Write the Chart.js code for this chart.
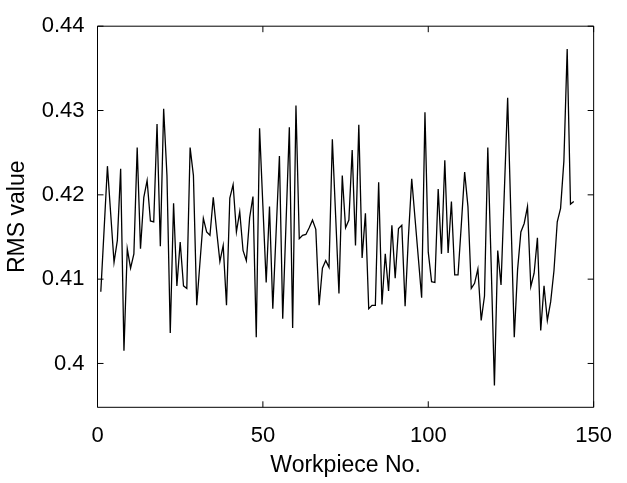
<!DOCTYPE html>
<html>
<head>
<meta charset="utf-8">
<title>RMS value by workpiece</title>
<script src="https://cdn.jsdelivr.net/npm/chart.js@4.4.1/dist/chart.umd.min.js"></script>
<style>
  html, body { margin: 0; padding: 0; background: #ffffff; }
  canvas { display: block; }
</style>
</head>
<body>
<canvas id="chart" width="627" height="483"></canvas>
<script>
// Workpiece numbers along the horizontal axis
const workpiece = [
  1, 2, 3, 4, 5, 6, 7, 8, 9, 10, 11, 12, 13, 14, 15, 16, 17, 18, 19, 20,
  21, 22, 23, 24, 25, 26, 27, 28, 29, 30, 31, 32, 33, 34, 35, 36, 37, 38, 39, 40,
  41, 42, 43, 44, 45, 46, 47, 48, 49, 50, 51, 52, 53, 54, 55, 56, 57, 58, 59, 60,
  61, 62, 63, 64, 65, 66, 67, 68, 69, 70, 71, 72, 73, 74, 75, 76, 77, 78, 79, 80,
  81, 82, 83, 84, 85, 86, 87, 88, 89, 90, 91, 92, 93, 94, 95, 96, 97, 98, 99, 100,
  101, 102, 103, 104, 105, 106, 107, 108, 109, 110, 111, 112, 113, 114, 115, 116, 117, 118, 119, 120,
  121, 122, 123, 124, 125, 126, 127, 128, 129, 130, 131, 132, 133, 134, 135, 136, 137, 138, 139, 140,
  141, 142, 143, 144
];

// RMS value measured for each workpiece
const rms = [
  0.4085, 0.4159, 0.4234, 0.4177, 0.4120, 0.4146, 0.4231, 0.4015, 0.4136, 0.4113,
  0.4130, 0.4256, 0.4136, 0.4197, 0.4217, 0.4169, 0.4168, 0.4284, 0.4139, 0.4302,
  0.4223, 0.4036, 0.4190, 0.4092, 0.4144, 0.4092, 0.4089, 0.4256, 0.4223, 0.4069,
  0.4121, 0.4172, 0.4156, 0.4152, 0.4197, 0.4158, 0.4121, 0.4140, 0.4069, 0.4196,
  0.4212, 0.4156, 0.4180, 0.4134, 0.4122, 0.4173, 0.4198, 0.4031, 0.4279, 0.4187,
  0.4096, 0.4186, 0.4065, 0.4156, 0.4246, 0.4053, 0.4167, 0.4280, 0.4042, 0.4306,
  0.4148, 0.4152, 0.4153, 0.4161, 0.4170, 0.4159, 0.4069, 0.4113, 0.4122, 0.4114,
  0.4266, 0.4175, 0.4083, 0.4223, 0.4161, 0.4170, 0.4253, 0.4140, 0.4283, 0.4125,
  0.4178, 0.4065, 0.4069, 0.4069, 0.4215, 0.4070, 0.4130, 0.4086, 0.4164, 0.4101,
  0.4160, 0.4164, 0.4068, 0.4150, 0.4219, 0.4172, 0.4125, 0.4078, 0.4298, 0.4132,
  0.4097, 0.4096, 0.4207, 0.4130, 0.4241, 0.4131, 0.4192, 0.4105, 0.4105, 0.4165,
  0.4227, 0.4186, 0.4089, 0.4095, 0.4112, 0.4051, 0.4080, 0.4256, 0.4120, 0.3974,
  0.4134, 0.4093, 0.4204, 0.4315, 0.4173, 0.4031, 0.4111, 0.4156, 0.4166, 0.4186,
  0.4091, 0.4107, 0.4149, 0.4039, 0.4092, 0.4051, 0.4073, 0.4110, 0.4168, 0.4184,
  0.4240, 0.4373, 0.4189, 0.4192
];

// Axis ticks and their labels
const xTicks = [0, 50, 100, 150];
const xTickLabels = ['0', '50', '100', '150'];
const yTicks = [0.40, 0.41, 0.42, 0.43, 0.44];
const yTickLabels = ['0.4', '0.41', '0.42', '0.43', '0.44'];

const FONT = '"Liberation Sans", Arial, Helvetica, sans-serif';

// Boxed plot frame with inward-pointing tick marks on all four sides
const boxFrame = {
  id: 'boxFrame',
  afterDatasetsDraw(chart) {
    const { ctx, chartArea: a, scales } = chart;
    const x = scales.x, y = scales.y;
    const L = 6;
    ctx.save();
    ctx.strokeStyle = '#000000';
    ctx.lineWidth = 1;
    ctx.beginPath();
    ctx.rect(a.left, a.top, a.right - a.left, a.bottom - a.top);
    xTicks.forEach(v => {
      const p = x.getPixelForValue(v);
      ctx.moveTo(p, a.bottom); ctx.lineTo(p, a.bottom - L);
      ctx.moveTo(p, a.top); ctx.lineTo(p, a.top + L);
    });
    yTicks.forEach(v => {
      const p = y.getPixelForValue(v);
      ctx.moveTo(a.left, p); ctx.lineTo(a.left + L, p);
      ctx.moveTo(a.right, p); ctx.lineTo(a.right - L, p);
    });
    ctx.stroke();
    ctx.restore();
  }
};

new Chart(document.getElementById('chart'), {
  type: 'line',
  data: {
    datasets: [{
      data: workpiece.map((w, i) => ({ x: w, y: rms[i] })),
      borderColor: '#000000',
      borderWidth: 1.3,
      pointRadius: 0,
      tension: 0,
      fill: false
    }]
  },
  options: {
    responsive: false,
    animation: false,
    devicePixelRatio: 1,
    layout: { padding: { top: 17.3, right: 21.3, left: 0, bottom: 0 } },
    plugins: {
      legend: { display: false },
      tooltip: { enabled: false }
    },
    scales: {
      x: {
        type: 'linear',
        min: 0,
        max: 150,
        afterBuildTicks: s => { s.ticks = xTicks.map(v => ({ value: v })); },
        afterFit: s => { s.height = 75.7; },
        grid: { display: false, drawTicks: false },
        border: { display: false },
        ticks: {
          padding: 15,
          color: '#000000',
          font: { family: FONT, size: 22 },
          maxRotation: 0,
          callback: (v, i) => xTickLabels[i]
        },
        title: {
          display: true,
          text: 'Workpiece No.',
          color: '#000000',
          font: { family: FONT, size: 23 },
          padding: { top: 0, bottom: 4 }
        }
      },
      y: {
        type: 'linear',
        min: 0.3948,
        max: 0.44,
        afterBuildTicks: s => { s.ticks = yTicks.map(v => ({ value: v })); },
        afterFit: s => { s.width = 97.5; },
        grid: { display: false, drawTicks: false },
        border: { display: false },
        ticks: {
          padding: 13,
          color: '#000000',
          font: { family: FONT, size: 22 },
          callback: (v, i) => yTickLabels[i]
        },
        title: {
          display: true,
          text: 'RMS value',
          color: '#000000',
          font: { family: FONT, size: 23 },
          padding: { top: 4, bottom: 0 }
        }
      }
    }
  },
  plugins: [boxFrame]
});
</script>
</body>
</html>
